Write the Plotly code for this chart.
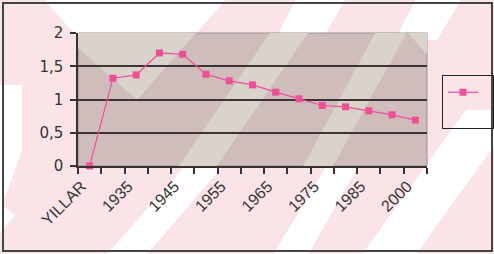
import plotly.graph_objects as go

# ---------------- data ----------------
categories = ["YILLAR", "1927", "1935", "1940", "1945", "1950", "1955", "1960",
              "1965", "1970", "1975", "1980", "1985", "1990", "2000"]
values = [0.0, 1.32, 1.37, 1.70, 1.68, 1.38, 1.28, 1.22,
          1.11, 1.01, 0.91, 0.89, 0.83, 0.77, 0.69]
y_tick_values = [0, 0.5, 1, 1.5, 2]
y_tick_labels = ["0", "0,5", "1", "1,5", "2"]
label_every = 2

# ---------------- layout geometry ----------------
W, H = 494, 254
ML, MR, MT, MB = 78, 67, 33, 88
PW, PH = W - ML - MR, H - MT - MB
n = len(categories)
xpos = list(range(n))


def pxp(x):
    return (x - ML) / PW


def pyp(y):
    return (H - MB - y) / PH


def paper_path(pts):
    return "M " + " L ".join(f"{pxp(x):.4f},{pyp(y):.4f}" for x, y in pts) + " Z"


def data_path(pts):
    def dx(x):
        return -0.5 + (x - ML) / PW * n

    def dy(y):
        return (H - MB - y) / PH * 2
    return "M " + " L ".join(f"{dx(x):.4f},{dy(y):.4f}" for x, y in pts) + " Z"


PINK_BG = "#fbe4e7"
WHITE = "#ffffff"
PLOT_BG = "#cfbdbc"
PLOT_LIGHT = "#d9d3cc"
LINE = "#ee4f97"
TXT = "#333333"
FONT_Y = "DejaVu Sans, Verdana, sans-serif"
FONT_X = "Liberation Sans, Arial, sans-serif"

shapes = []
# chart-area white stripes
chart_stripes = [
    [(40, -5), (230, -5), (135, 102)],
    [(-5, 85), (22, 85), (22, 150), (-5, 225)],
    [(-5, 200), (15, 215), (-5, 240)],
    [(298, -5), (348, -5), (322, 40), (275, 40)],
    [(190, 160), (228, 160), (142, 260), (102, 260)],
    [(330, 160), (362, 160), (305, 260), (270, 260)],
    [(418, -5), (464, -5), (437, 40), (395, 40)],
    [(358, 260), (412, 260), (520, 110), (466, 110)],
]
for pts in chart_stripes:
    shapes.append(dict(type="path", xref="paper", yref="paper", path=paper_path(pts),
                       fillcolor=WHITE, line=dict(width=0), layer="below"))
# plot-area base
shapes.append(dict(type="rect", xref="paper", yref="paper", x0=0, x1=1, y0=0, y1=1,
                   fillcolor=PLOT_BG, line=dict(width=0), layer="below"))
# plot-area light stripes (clipped to plot area)
plot_stripes = [
    [(78, 33), (78, 48), (137, 100), (196, 33)],
    [(176, 170), (214, 170), (310, 30), (272, 30)],
    [(301, 170), (331, 170), (408, 30), (377, 30)],
    [(405, 30), (432, 30), (432, 60)],
]
for pts in plot_stripes:
    shapes.append(dict(type="path", xref="x", yref="y", path=data_path(pts),
                       fillcolor=PLOT_LIGHT, line=dict(width=0), layer="below"))
# plot-area border
shapes.append(dict(type="rect", xref="paper", yref="paper", x0=0, x1=1, y0=0, y1=1,
                   fillcolor="rgba(0,0,0,0)", line=dict(color="#9a9090", width=1), layer="below"))
# chart outer border
shapes.append(dict(type="rect", xref="paper", yref="paper",
                   x0=pxp(3), x1=pxp(492), y0=pyp(251), y1=pyp(3),
                   line=dict(color="#444444", width=2), fillcolor="rgba(0,0,0,0)", layer="above"))

fig = go.Figure()
fig.add_trace(go.Scatter(
    x=xpos, y=values, mode="lines+markers", name=" <br> ",
    line=dict(color=LINE, width=1.2),
    marker=dict(symbol="square", size=7, color=LINE),
    showlegend=True, cliponaxis=False,
))

fig.update_layout(
    width=W, height=H,
    margin=dict(l=ML, r=MR, t=MT, b=MB, pad=0, autoexpand=False),
    paper_bgcolor=PINK_BG, plot_bgcolor="rgba(0,0,0,0)",
    font=dict(family=FONT_Y, size=15, color=TXT),
    shapes=shapes,
    showlegend=True,
    legend=dict(x=pxp(442), y=pyp(75), xanchor="left", yanchor="top",
                bordercolor="#222222", borderwidth=1, bgcolor="rgba(0,0,0,0)",
                font=dict(family=FONT_X, size=15),
                itemwidth=30, valign="top"),
    xaxis=dict(
        range=[-0.5, n - 0.5], showgrid=False, zeroline=False, automargin=False,
        showline=True, linecolor="#3a3030", linewidth=1.5,
        tickmode="array", tickvals=xpos[::label_every], ticktext=categories[::label_every],
        ticks="", tickangle=-45, tickfont=dict(family=FONT_X, size=16, color=TXT),
        ticklabelshift=-8, ticklabelstandoff=3,
        minor=dict(tickmode="array", tickvals=[i - 0.5 for i in range(n + 1)],
                   ticks="outside", ticklen=6, tickcolor="#3a3030", tickwidth=1.5,
                   showgrid=False),
        fixedrange=True,
    ),
    yaxis=dict(
        range=[0, 2], zeroline=False, showline=True, linecolor="#3a3030", linewidth=1.5,
        automargin=False,
        tickmode="array", tickvals=y_tick_values, ticktext=y_tick_labels,
        ticks="outside", ticklen=6, tickcolor="#3a3030", tickwidth=1.5,
        tickfont=dict(family=FONT_Y, size=15, color=TXT),
        showgrid=False, ticklabelstandoff=4,
        minor=dict(tickmode="array", tickvals=y_tick_values[1:-1], showgrid=True,
                   gridcolor="#3d3434", gridwidth=1.5, ticks=""),
        fixedrange=True,
    ),
)

fig.write_html("out.html", config={"displayModeBar": False},
               post_script="document.body.style.margin='0px';document.body.style.overflow='hidden';")
